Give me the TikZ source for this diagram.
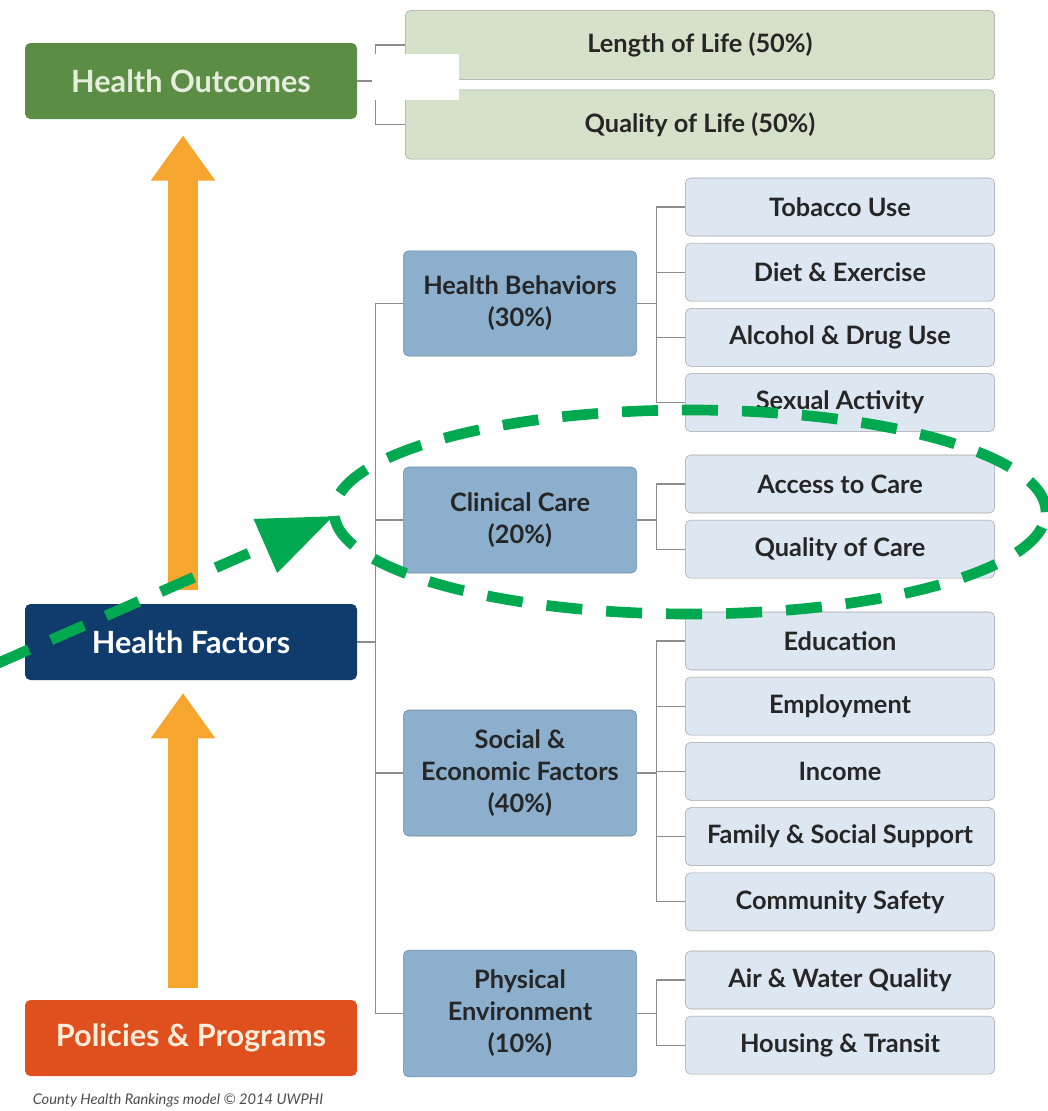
\documentclass[tikz,border=0pt]{standalone}
\usepackage{fontspec}
\setmainfont{Lato}
\usetikzlibrary{positioning, arrows.meta}
\definecolor{OutGreen} {HTML}{5B8E44}
\definecolor{OutLight} {HTML}{D5E1C9}
\definecolor{FacNavy}  {HTML}{0F3B6D}
\definecolor{PolRed}   {HTML}{E0501E}
\definecolor{CatBlue}  {HTML}{8BAFCC}
\definecolor{SubBlue}  {HTML}{DCE7F1}
\definecolor{LineGray} {HTML}{8C8C8C}
\definecolor{ArrOrange}{HTML}{F6A62E}
\definecolor{MarkGreen}{HTML}{00A94F}

\begin{document}
\begin{tikzpicture}[x=0.75pt, y=-0.75pt, node distance=5pt,
    mainbox/.style={rounded corners=4pt, minimum width=249pt, minimum height=57pt,
      font=\fontsize{23}{26}\selectfont\bfseries},
    outbox/.style={fill=OutLight, draw=LineGray!80, rounded corners=4pt,
      minimum width=442pt, minimum height=52pt, text=black!85,
      font=\fontsize{19}{22}\selectfont\bfseries},
    catbox/.style={fill=CatBlue, draw=CatBlue!80!black, rounded corners=4pt,
      minimum width=175pt, align=center, text=black!85,
      font=\fontsize{19}{24}\selectfont\bfseries},
    subbox/.style={fill=SubBlue, draw=LineGray!80, rounded corners=4pt,
      minimum width=232pt, minimum height=43.5pt, text=black!85,
      font=\fontsize{19}{22}\selectfont\bfseries},
    link/.style={draw=LineGray, line width=0.8pt},
    uparrow/.style={draw=ArrOrange, line width=22pt,
      -{Triangle[length=34pt, width=46pt]}},
    greendash/.style={draw=MarkGreen, line width=8pt, dash pattern=on 27pt off 18pt}]
  \useasboundingbox (0,0) rectangle (1048,1111);

  % left column
  \node[mainbox, fill=OutGreen, text=OutLight!60!white] (ho) at (191,81) {Health Outcomes};
  \node[mainbox, fill=FacNavy, text=white] (hf) at (191,642) {Health Factors};
  \node[mainbox, fill=PolRed, text=orange!15!white] (pp) at (191,1038) {Policies \& Programs};
  \node[font=\fontsize{11}{13}\selectfont\itshape, text=black!70] (cap) at (178,1100)
    {County Health Rankings model \textcopyright\ 2014 UWPHI};

  \draw[uparrow] ([xshift=-6pt, yshift=10.5pt]hf.north) -- ([xshift=-6pt, yshift=-12pt]ho.south);
  \draw[uparrow] ([xshift=-6pt, yshift=9pt]pp.north) -- ([xshift=-6pt, yshift=-9.5pt]hf.south);

  % outcomes
  \node[outbox] (lol) at (700,45) {Length of Life (50\%)};
  \node[outbox] (qol) at (700,124.5) {Quality of Life (50\%)};

  % factor groups
  \node[catbox, minimum height=79pt] (hb) at (520,303.5) {Health Behaviors\\(30\%)};
  \node[catbox, minimum height=79.5pt] (cc) at (520,520) {Clinical Care\\(20\%)};
  \node[catbox, minimum height=94.5pt] (se) at (520,773) {Social \&\\Economic Factors\\(40\%)};
  \node[catbox, minimum height=95pt] (pe) at (520,1013.5) {Physical\\Environment\\(10\%)};

  % sub factors
  \node[subbox] (tob) at (840,207) {Tobacco Use};
  \node[subbox, below=of tob] (diet) {Diet \& Exercise};
  \node[subbox, below=of diet] (alc) {Alcohol \& Drug Use};
  \node[subbox, below=of alc] (sex) {Sexual Activity};
  \node[subbox] (acc) at (840,484) {Access to Care};
  \node[subbox, below=of acc] (qoc) {Quality of Care};
  \node[subbox] (edu) at (840,641) {Education};
  \node[subbox, below=of edu] (emp) {Employment};
  \node[subbox, below=of emp] (inc) {Income};
  \node[subbox, below=of inc] (fam) {Family \& Social Support};
  \node[subbox, below=of fam] (com) {Community Safety};
  \node[subbox] (air) at (840,980) {Air \& Water Quality};
  \node[subbox, below=of air] (hou) {Housing \& Transit};

  % connectors
  \draw[link] (ho.east) -- ++(18,0) coordinate (hoj);
  \foreach \k in {lol,qol}
    \draw[link] (hoj) |- (\k.west);
  \draw[link] (hf.east) -- ++(18,0) coordinate (hfj);
  \foreach \k in {hb,cc,se,pe}
    \draw[link] (hfj) |- (\k.west);
  \foreach \p/\kids in {hb/{tob,diet,alc,sex}, cc/{acc,qoc}, se/{edu,emp,inc,fam,com}, pe/{air,hou}} {
    \draw[link] (\p.east) -- ++(20,0) coordinate (\p j);
    \foreach \k in \kids
      \draw[link] (\p j) |- (\k.west);
  }

  % white patch
  \node[fill=white, minimum width=65pt, minimum height=34.5pt, inner sep=0pt] (patch) at (415.5,77) {};

  % green highlight
  \node[draw=none, minimum width=534pt, minimum height=153pt] (ring) at (690,512) {};
  \draw[greendash] (ring.center) ellipse [x radius=267pt, y radius=76.5pt];
  \coordinate (gstart) at (-4,664);
  \draw[greendash, -{Triangle[length=56pt, width=42pt]}] (gstart) -- ([yshift=-3pt]ring.west);
\end{tikzpicture}
\end{document}
